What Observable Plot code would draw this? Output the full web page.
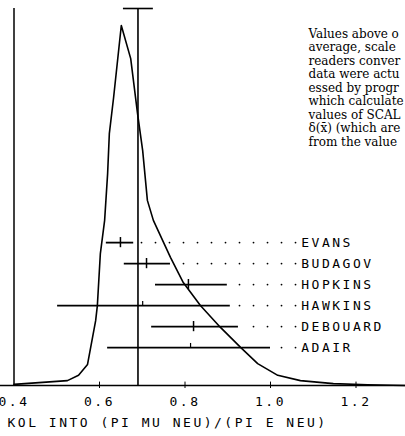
<!DOCTYPE html>
<html>
<head>
<meta charset="utf-8">
<script src="https://cdn.jsdelivr.net/npm/d3@7"></script>
<script src="https://cdn.jsdelivr.net/npm/@observablehq/plot@0.6"></script>
<style>
  html, body { margin: 0; padding: 0; background: white; overflow: hidden; }
  #chart svg { overflow: hidden; }
</style>
</head>
<body>
<div id="chart"></div>
<script>
// Distribution curve (x = ratio, y = relative frequency, arbitrary units)
const curveX = [0.400,0.525,0.551,0.572,0.591,0.595,0.602,0.612,0.619,0.623,0.633,0.651,0.673,0.689,0.701,0.712,0.726,0.766,0.796,0.836,0.883,0.930,0.970,1.017,1.070,1.147,1.227,1.316];
const curveY = [0.3,1.3,2.7,5.6,17.2,21.2,35.0,43.8,56.2,66.8,76.4,95.5,86.7,72.1,62.3,49.1,43.8,34.0,27.3,21.2,15.4,10.1,5.8,2.7,1.3,0.5,0.2,0];

// Experiments
const names   = ["EVANS","BUDAGOV","HOPKINS","HAWKINS","DEBOUARD","ADAIR"];
const centers = [0.649, 0.710, 0.808, 0.701, 0.820, 0.813];
const lows    = [0.616, 0.658, 0.731, 0.502, 0.722, 0.619];
const highs   = [0.680, 0.766, 0.899, 0.906, 0.925, 1.000];
const fullCross = [true, true, true, false, true, false];

// Average with its error
const meanX = 0.690, meanLo = 0.656, meanHi = 0.726;

// Axis
const xTicks = [0.4, 0.6, 0.8, 1.0, 1.2];
const xTitle = "KOL INTO (PI MU NEU)/(PI E NEU)";

// Note text (cut at the page edge in the original)
const noteLines = [
  "Values above o",
  "average, scale",
  "readers conver",
  "data were actu",
  "essed by progr",
  "which calculate",
  "values of SCAL",
  "\u03b4(x\u0304) (which are",
  "from the value"
];

// ---- build
const curve = curveX.map((x, i) => ({x, y: curveY[i]}));
const rowY = i => 37.9 - i * 5.57;
const rows = names.map((name, i) => ({name, c: centers[i], lo: lows[i], hi: highs[i], full: fullCross[i], y: rowY(i)}));
const leaderGrid = d3.range(0, 12).map(k => 1.0585 - k * 0.03275);
const leaders = rows.flatMap(r => leaderGrid.filter(x => x > r.hi + 0.012).map(x => ({x, y: r.y})));
const mono = "DejaVu Sans Mono";

const chart = Plot.plot({
  width: 405,
  height: 436,
  marginLeft: 0,
  marginRight: 0,
  marginTop: 8,
  marginBottom: 51,
  x: {domain: [0.4 - 13.5 / 427.5, 0.4 + 391.5 / 427.5], axis: null},
  y: {domain: [0, 100], axis: null},
  style: {background: "white"},
  marks: [
    // axes lines
    Plot.ruleY([0], {stroke: "black", strokeWidth: 1.5}),
    Plot.ruleX([0.4], {y1: 0, y2: 100, stroke: "black", strokeWidth: 1.5}),
    Plot.ruleX(xTicks.slice(1), {y1: -0.8, y2: 0.9, stroke: "black", strokeWidth: 1}),
    Plot.text(xTicks, {x: d => d, y: 0, dy: 16, text: d => d.toFixed(1), fontFamily: mono, fontSize: 13, fill: "black", textAnchor: "middle"}),
    Plot.text([xTitle], {frameAnchor: "bottom-left", dx: 7, dy: 41, fontFamily: mono, fontSize: 13, fill: "black", textAnchor: "start"}),
    // average line with cap
    Plot.ruleX([meanX], {y1: 0, y2: 100, stroke: "black", strokeWidth: 1.6}),
    Plot.ruleY([100], {x1: meanLo, x2: meanHi, stroke: "black", strokeWidth: 1.6}),
    // curve
    Plot.line(curve, {x: "x", y: "y", stroke: "black", strokeWidth: 1.6}),
    // leader dots
    Plot.dot(leaders, {x: "x", y: "y", r: 0.9, fill: "black", stroke: null}),
    // error bars
    Plot.ruleY(rows, {y: "y", x1: "lo", x2: "hi", stroke: "black", strokeWidth: 1.8}),
    Plot.ruleX(rows.filter(r => r.full), {x: "c", y1: r => r.y - 1.35, y2: r => r.y + 1.35, stroke: "black", strokeWidth: 1.5}),
    Plot.ruleX(rows.filter(r => !r.full), {x: "c", y1: r => r.y, y2: r => r.y + 1.1, stroke: "black", strokeWidth: 1.2}),
    // labels
    Plot.text(rows, {x: 1.072, y: "y", text: "name", fontFamily: mono, fontSize: 13, fill: "black", textAnchor: "start"}),
    // note
    Plot.text([noteLines.join("\n")], {frameAnchor: "top-left", dx: 308, dy: 20, lineAnchor: "top", lineHeight: 1.12, fontFamily: "DejaVu Serif", fontSize: 12, fill: "black", textAnchor: "start"})
  ]
});

d3.select(chart).selectAll(`g[font-family="${mono}"]`).attr("letter-spacing", "2.5px");
document.getElementById("chart").appendChild(chart);
</script>
</body>
</html>
